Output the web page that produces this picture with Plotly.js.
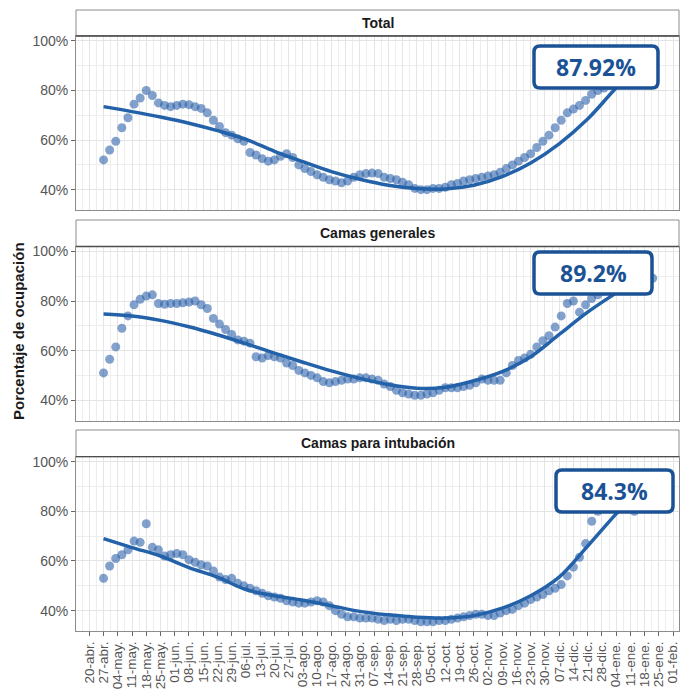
<!DOCTYPE html>
<html><head><meta charset="utf-8">
<script src="https://cdn.plot.ly/plotly-3.0.1.min.js"></script>
<style>html,body{margin:0;padding:0;background:#fff}#chart{width:685px;height:693px}</style>
</head><body><div id="chart"></div>
<script>
// ---------- DATA ----------
const panelTitles = ['Total', 'Camas generales', 'Camas para intubación'];
const latestLabels = ['87.92%', '89.2%', '84.3%'];
const yAxisTitle = 'Porcentaje de ocupación';

// daily observations sampled every 3 days, starting 27-abr-2020
const pointStart = '2020-04-27';
const pointStepDays = 3;
const totalPts = [52,56,59.5,65,69,74.5,77,80,78,75,74,73.5,74,74.5,74.3,73.5,72.8,71,68,65.5,63,62,60.5,59.5,55,54,52.5,51.5,52,53.5,54.5,53,50,48.5,47.3,46,45,44,43.5,42.8,43.5,45,46,46.5,46.7,46.5,45,44.5,44,43,42,40.5,40,40,40.5,40.5,41,42,42.5,43.5,44,44.5,45,45.5,46,47,48.5,50,51.5,53,54.5,57,59.5,62,65,68,71,72.5,74,76,78.5,80,81,82,83,84,85,86,87,87.5,87.92];
const generalPts = [51,56.5,61.5,69,74,78.5,80.7,82,82.5,79,78.7,79,79,79.3,79.6,80,78.5,77,73,70.7,68.5,66.5,64.3,63.8,63,57.5,57,58,57.5,57,55,54,52,51,50,49,47.5,47,47.5,48,48.5,48.5,49,49,48.5,48,46.5,45.5,44,43,42.5,42,42,42.5,43,44,45,45,45,45.5,46,47,48.5,48,48,48,51,54,56,57,58.5,61.5,64,66,69.5,74,79,80,75.5,78.5,81,82.5,84,85,85.5,86.5,87,87.5,88,88.5,89.2];
const intubPts = [53,58,61,62.5,64.5,68,67.5,75,65.5,64.5,62,62.5,63,62.5,60.5,59.5,58.5,58,56,53.5,52.5,53,51,50,49,48,47,46,45.5,45,44,43.5,43,43,43.5,44,43.5,42,40,38.5,37.5,37.5,37,37,37,36.5,36,36.5,36,36.5,36.5,36,35.5,35.5,35.5,36,36,36.5,37,37.5,38,38.5,38.5,38,38,39,40,40.5,42,43,44.5,45.5,46.5,48,49,50.5,54,57.5,61.5,67,76,80,81,81.5,82,82.5,81,80,82,83.5,84.3];

// smoothed trend
const trendDates = ['2020-04-27','2020-05-11','2020-05-25','2020-06-08','2020-06-22','2020-07-06','2020-07-20','2020-08-03','2020-08-17','2020-08-31','2020-09-14','2020-09-28','2020-10-12','2020-10-26','2020-11-09','2020-11-23','2020-12-07','2020-12-21','2021-01-04','2021-01-18','2021-01-22'];
const totalTrend = [73.5,71.5,69.3,66.8,63.8,60.3,55.5,51.3,47.3,44.2,41.8,40.5,40.3,41.8,45.3,50.8,58.5,68.5,81,92,95];
const generalTrend = [74.8,74,72.2,69.6,66.4,62.8,59,55.3,51.8,48.8,46.3,44.8,45.2,47.8,51.5,57.5,66.5,75.5,83.3,91,93];
const intubTrend = [69,65.4,62,57.3,53.5,48.5,46,44.2,42,39.7,38.3,37.3,37,38,41,46,53.5,66,79,91,95];

// weekly x ticks
const tickStart = '2020-04-20';
const tickLabels = ['20-abr.','27-abr.','04-may.','11-may.','18-may.','25-may.','01-jun.','08-jun.','15-jun.','22-jun.','29-jun.','06-jul.','13-jul.','20-jul.','27-jul.','03-ago.','10-ago.','17-ago.','24-ago.','31-ago.','07-sep.','14-sep.','21-sep.','28-sep.','05-oct.','12-oct.','19-oct.','26-oct.','02-nov.','09-nov.','16-nov.','23-nov.','30-nov.','07-dic.','14-dic.','21-dic.','28-dic.','04-ene.','11-ene.','18-ene.','25-ene.','01-feb.'];
const yTicks = [40, 60, 80, 100];

// ---------- helpers ----------
const DAY = 86400000;
function dateSeq(start, step, n) {
  const t0 = Date.parse(start + 'T00:00:00Z');
  const out = [];
  for (let i = 0; i < n; i++) out.push(new Date(t0 + i * step * DAY).toISOString().slice(0, 10));
  return out;
}
const W = 685, H = 693;
const M = {l: 76, r: 6, t: 10, b: 62};
const PW = W - M.l - M.r, PH = H - M.t - M.b;
const px2x = px => (px - M.l) / PW;
const px2y = py => (H - M.b - py) / PH;

// panel geometry (pixels): strip top, plot top, plot bottom
const panels = [
  {strip: 10, top: 36, bottom: 210},
  {strip: 220, top: 246.5, bottom: 420.5},
  {strip: 430, top: 456.7, bottom: 631}
];
const boxes = [
  {x0: 534, x1: 658, y0: 46, y1: 88},
  {x0: 534, x1: 652, y0: 252, y1: 294},
  {x0: 556, x1: 673, y0: 470, y1: 512}
];

const pointSeries = [totalPts, generalPts, intubPts];
const trendSeries = [totalTrend, generalTrend, intubTrend];
const tickVals = dateSeq(tickStart, 7, tickLabels.length);

const ptColor = 'rgba(40,94,168,0.58)';
const lnColor = '#2361a8';
const boxColor = '#1b5296';

const data = [];
pointSeries.forEach((vals, i) => {
  const ax = i === 0 ? '' : String(i + 1);
  data.push({
    type: 'scatter', mode: 'markers',
    x: dateSeq(pointStart, pointStepDays, vals.length), y: vals,
    xaxis: 'x' + ax, yaxis: 'y' + ax,
    marker: {size: 9, color: ptColor, line: {width: 0}},
    hoverinfo: 'skip', showlegend: false
  });
  data.push({
    type: 'scatter', mode: 'lines',
    x: trendDates, y: trendSeries[i],
    xaxis: 'x' + ax, yaxis: 'y' + ax,
    line: {color: lnColor, width: 3.5, shape: 'spline', smoothing: 1},
    hoverinfo: 'skip', showlegend: false
  });
});

const xRange = ['2020-04-13 11:00', '2021-02-03 22:00'];
const yRange = [31.8, 102];

const layout = {
  width: W, height: H,
  margin: M,
  paper_bgcolor: '#ffffff', plot_bgcolor: '#ffffff',
  font: {family: 'Liberation Sans, Arial, sans-serif', color: '#555555'},
  showlegend: false,
  shapes: [], annotations: []
};

panels.forEach((p, i) => {
  const ax = i === 0 ? '' : String(i + 1);
  const isBottom = i === 2;
  layout['xaxis' + ax] = {
    type: 'date', range: xRange,
    domain: [0, 1], anchor: 'y' + ax,
    tickmode: 'array', tickvals: tickVals,
    ticktext: isBottom ? tickLabels : tickVals.map(() => ''),
    showticklabels: isBottom,
    tickangle: -90,
    tickfont: {size: 13.5, color: '#555555'},
    ticks: isBottom ? 'outside' : '', ticklen: 4, tickcolor: '#666666', tickwidth: 1,
    showgrid: true, gridcolor: '#e4e4e4', gridwidth: 1,
    minor: {dtick: 3.5 * DAY, tick0: tickStart, showgrid: true, gridcolor: '#eeeeee', gridwidth: 1, ticks: ''},
    showline: true, mirror: true, linecolor: '#8c8c8c', linewidth: 1,
    zeroline: false, fixedrange: true
  };
  layout['yaxis' + ax] = {
    range: yRange,
    domain: [px2y(p.bottom), px2y(p.top)], anchor: 'x' + ax,
    tickmode: 'array', tickvals: yTicks, ticktext: yTicks.map(v => v + '%'),
    tickfont: {size: 14, color: '#555555'},
    ticks: 'outside', ticklen: 4, tickcolor: '#666666', tickwidth: 1,
    showgrid: true, gridcolor: '#e4e4e4', gridwidth: 1,
    minor: {dtick: 10, tick0: 30, showgrid: true, gridcolor: '#eeeeee', gridwidth: 1, ticks: ''},
    showline: true, mirror: true, linecolor: '#8c8c8c', linewidth: 1,
    zeroline: false, fixedrange: true
  };
  // strip
  layout.shapes.push({
    type: 'rect', xref: 'paper', yref: 'paper', layer: 'above',
    x0: 0, x1: 1, y0: px2y(p.top), y1: px2y(p.strip),
    line: {color: '#8c8c8c', width: 1}, fillcolor: 'rgba(255,255,255,0)'
  });
  layout.shapes.push({
    type: 'line', xref: 'paper', yref: 'paper', layer: 'above',
    x0: 0, x1: 1, y0: px2y(p.top), y1: px2y(p.top),
    line: {color: '#4d4d4d', width: 1.3}
  });
  layout.annotations.push({
    xref: 'paper', yref: 'paper', x: 0.5, y: px2y((p.strip + p.top) / 2),
    xanchor: 'center', yanchor: 'middle', showarrow: false,
    text: '<b>' + panelTitles[i] + '</b>',
    font: {size: 14, color: '#1a1a1a', family: 'Liberation Sans, Arial, sans-serif'}
  });
  // rounded value box
  const b = boxes[i], r = 6;
  const P = (x, y) => px2x(x).toFixed(5) + ',' + px2y(y).toFixed(5);
  const path = 'M' + P(b.x0 + r, b.y0) + ' L' + P(b.x1 - r, b.y0) +
    ' Q' + P(b.x1, b.y0) + ' ' + P(b.x1, b.y0 + r) +
    ' L' + P(b.x1, b.y1 - r) + ' Q' + P(b.x1, b.y1) + ' ' + P(b.x1 - r, b.y1) +
    ' L' + P(b.x0 + r, b.y1) + ' Q' + P(b.x0, b.y1) + ' ' + P(b.x0, b.y1 - r) +
    ' L' + P(b.x0, b.y0 + r) + ' Q' + P(b.x0, b.y0) + ' ' + P(b.x0 + r, b.y0) + ' Z';
  layout.shapes.push({
    type: 'path', xref: 'paper', yref: 'paper', layer: 'above', path: path,
    fillcolor: '#ffffff', line: {color: boxColor, width: 3.5}
  });
  layout.annotations.push({
    xref: 'paper', yref: 'paper',
    x: px2x((b.x0 + b.x1) / 2), y: px2y((b.y0 + b.y1) / 2),
    xanchor: 'center', yanchor: 'middle', showarrow: false,
    text: '<b>' + latestLabels[i] + '</b>',
    font: {size: 23, color: boxColor, family: 'Open Sans, Liberation Sans, sans-serif'}
  });
});

layout.annotations.push({
  xref: 'paper', yref: 'paper', x: px2x(18), y: px2y(331),
  xanchor: 'center', yanchor: 'middle', showarrow: false, textangle: -90,
  text: '<b>' + yAxisTitle + '</b>',
  font: {size: 15, color: '#1a1a1a', family: 'Liberation Sans, Arial, sans-serif'}
});

Plotly.newPlot('chart', data, layout, {displayModeBar: false, staticPlot: true});
</script>
</body></html>
